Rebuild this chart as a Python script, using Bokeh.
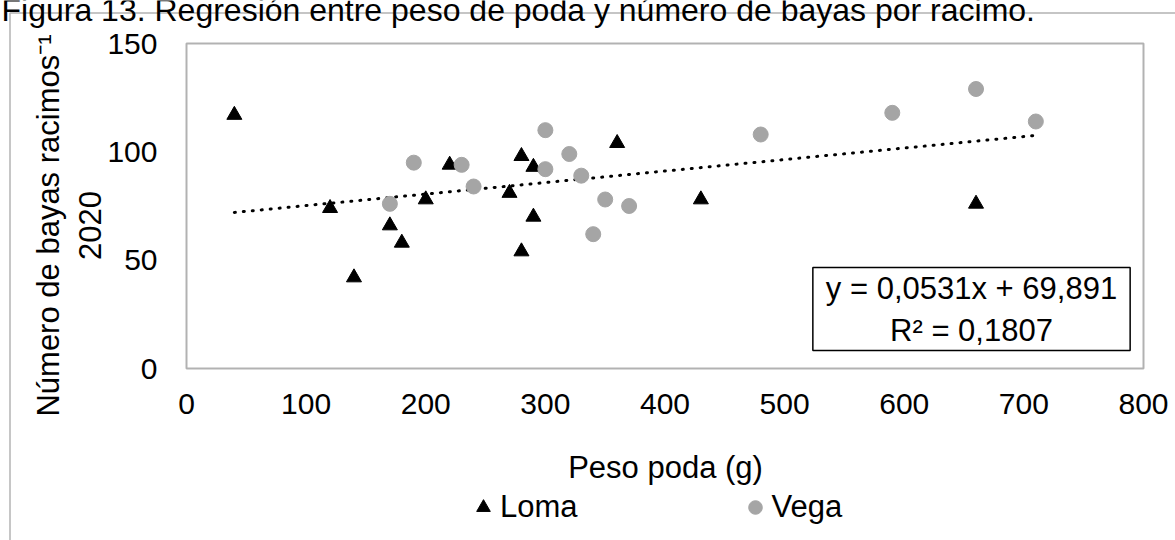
import numpy as np
from bokeh.plotting import figure
from bokeh.models import Range1d, Label, Legend, LegendItem, BoxAnnotation
from bokeh.embed import file_html
from bokeh.resources import INLINE

# ---- data ----
loma_x = [40, 120, 140, 170, 180, 200, 220, 270, 280, 280, 290, 290, 360, 430, 660]
loma_y = [117, 74, 42, 66, 58, 78, 94, 81, 98, 54, 93, 70, 104, 78, 76]
vega_x = [170, 190, 230, 240, 300, 300, 320, 330, 340, 350, 370, 480, 590, 660, 710]
vega_y = [76, 95, 94, 84, 110, 92, 99, 89, 62, 78, 75, 108, 118, 129, 114]
trend_slope = 0.0531
trend_intercept = 69.891
r_squared = "0,1807"
x_ticks = [0, 100, 200, 300, 400, 500, 600, 700, 800]
y_ticks = [0, 50, 100, 150]
x_min, x_max = 0, 800
y_min, y_max = 0, 150
title_text = "Figura 13. Regresión entre peso de poda y número de bayas por racimo."
x_label = "Peso poda (g)"
y_label = "Número de bayas racimos\u207b\u00b9\n2020"
eq_text = "y = 0,0531x + 69,891\nR\u00b2 = " + r_squared

all_x = loma_x + vega_x
trend_x = [min(all_x), max(all_x)]
trend_y = [trend_slope * v + trend_intercept for v in trend_x]

FONT = "Liberation Sans"
W, H = 1175, 540
# plot-area box position on the canvas (pixels)
BOX_L, BOX_R, BOX_T, BOX_B = 186, 1143, 43, 368
sx = (BOX_R - BOX_L) / (x_max - x_min)
sy = (BOX_B - BOX_T) / (y_max - y_min)
xr = Range1d(x_min - BOX_L / sx, x_max + (W - BOX_R) / sx)
yr = Range1d(y_min - (H - BOX_B) / sy, y_max + BOX_T / sy)

p = figure(width=W, height=H, x_range=xr, y_range=yr,
           output_backend="svg", toolbar_location=None,
           min_border=0)
p.grid.visible = False
p.outline_line_color = None
p.background_fill_color = "white"
p.border_fill_color = "white"

for ax in (p.xaxis[0], p.yaxis[0]):
    ax.axis_line_color = None
    ax.major_tick_line_color = None
    ax.minor_tick_line_color = None
    ax.major_label_text_font = FONT
    ax.major_label_text_font_size = "30px"
    ax.major_label_text_color = "black"
p.xaxis.ticker = x_ticks
p.yaxis.ticker = y_ticks
p.xaxis.fixed_location = y_min
p.yaxis.fixed_location = x_min
p.xaxis.major_label_standoff = 19
p.yaxis.major_label_standoff = 23

# plot-area border
p.add_layout(BoxAnnotation(left=x_min, right=x_max, bottom=y_min, top=y_max,
                           fill_alpha=0, line_color="black", line_width=2))
# outer chart frame
p.add_layout(BoxAnnotation(left=9.5, right=W + 20, top=H - 12.5, bottom=-20,
                           left_units="screen", right_units="screen",
                           top_units="screen", bottom_units="screen",
                           fill_alpha=0, line_color="black", line_width=1.5))

p.line(trend_x, trend_y, line_color="black", line_width=3, line_dash="1 8", line_cap="round")
r_loma = p.scatter(loma_x, loma_y, marker="triangle", size=15, color="black")
r_vega = p.scatter(vega_x, vega_y, marker="circle", size=15, color="#A5A5A5")

legend = Legend(items=[LegendItem(label="Loma", renderers=[r_loma]),
                       LegendItem(label="Vega", renderers=[r_vega])],
                orientation="horizontal", location=(466, 15),
                glyph_width=34, glyph_height=34, label_standoff=0, spacing=160, padding=10,
                border_line_color=None, background_fill_alpha=0,
                label_text_font=FONT, label_text_font_size="31px", label_text_color="black")
p.add_layout(legend)

p.add_layout(Label(x=971, y=H - 308.5, x_units="screen", y_units="screen", text=eq_text,
                   text_align="center", text_baseline="middle", text_font=FONT,
                   text_font_size="31px", text_color="black",
                   border_line_color="black", border_line_width=1.5,
                   background_fill_color="white", padding=dict(x=13, y=3)))

p.add_layout(Label(x=68.5, y=H - 225, x_units="screen", y_units="screen", text=y_label,
                   angle=np.pi / 2, text_align="center", text_baseline="middle",
                   text_font=FONT, text_font_size="31px", text_color="black"))
p.add_layout(Label(x=665, y=H - 467, x_units="screen", y_units="screen", text=x_label,
                   text_align="center", text_baseline="alphabetic",
                   text_font=FONT, text_font_size="31px", text_color="black"))
p.add_layout(Label(x=1, y=H - 9, x_units="screen", y_units="screen", text=title_text,
                   text_align="left", text_baseline="alphabetic",
                   text_font=FONT, text_font_size="32px", text_color="black"))

open("out.html", "w").write(file_html(p, INLINE))
